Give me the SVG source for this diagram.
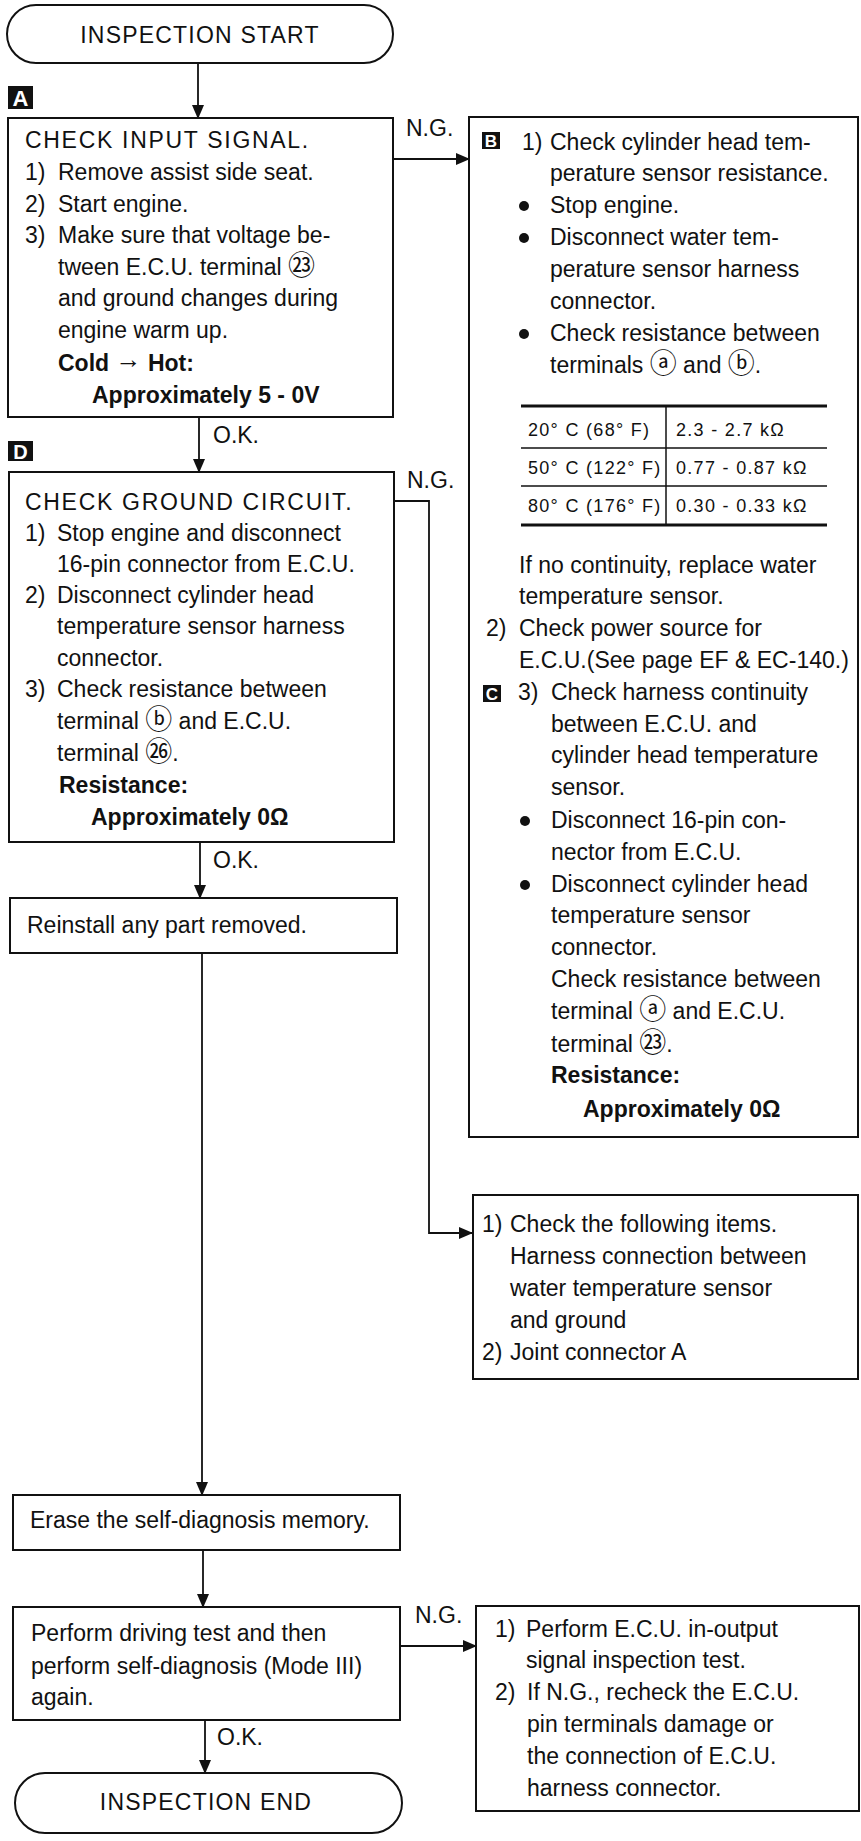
<svg xmlns="http://www.w3.org/2000/svg" width="861" height="1841" viewBox="0 0 861 1841">
<style>
.t{font-family:'Liberation Sans','DejaVu Sans','Noto Sans CJK JP',sans-serif;font-size:23px;fill:#111}
.b{font-weight:bold}
.h{letter-spacing:1.7px}
.ti{letter-spacing:1.2px}
.tb{font-size:18px;letter-spacing:1.3px}
.c{font-size:27px}
.box{fill:#fff;stroke:#111;stroke-width:2}
.ln{stroke:#111;stroke-width:1.8;fill:none}
.badge{fill:#111}
.bt{font-family:'Liberation Sans',sans-serif;fill:#fff;text-anchor:middle;font-weight:bold}
.dot{fill:#111}
</style>
<defs>
<marker id="ah" markerWidth="14" markerHeight="12" refX="13" refY="6" orient="auto" markerUnits="userSpaceOnUse">
<path d="M0,0 L14,6 L0,12 Z" fill="#111"/>
</marker>
</defs>
<rect width="861" height="1841" fill="#fff"/>

<g id="connectors">
<line class="ln" x1="198" y1="63" x2="198" y2="118" marker-end="url(#ah)"/>
<line class="ln" x1="393" y1="159" x2="469" y2="159" marker-end="url(#ah)"/>
<text class="t" x="406" y="136">N.G.</text>
<line class="ln" x1="199" y1="417" x2="199" y2="472" marker-end="url(#ah)"/>
<text class="t" x="213" y="443">O.K.</text>
<path class="ln" d="M394,501 H429 V1233 H472" marker-end="url(#ah)"/>
<text class="t" x="407" y="488">N.G.</text>
<line class="ln" x1="200" y1="842" x2="200" y2="898" marker-end="url(#ah)"/>
<text class="t" x="213" y="868">O.K.</text>
<line class="ln" x1="202" y1="953" x2="202" y2="1495" marker-end="url(#ah)"/>
<line class="ln" x1="203" y1="1550" x2="203" y2="1607" marker-end="url(#ah)"/>
<line class="ln" x1="205" y1="1720" x2="205" y2="1773" marker-end="url(#ah)"/>
<text class="t" x="217" y="1745">O.K.</text>
<line class="ln" x1="400" y1="1646" x2="476" y2="1646" marker-end="url(#ah)"/>
<text class="t" x="415" y="1623">N.G.</text>
</g>

<g id="start">
<rect class="box" x="7" y="5" width="386" height="58" rx="29" ry="29"/>
<text class="t ti" x="200" y="43" text-anchor="middle">INSPECTION START</text>
</g>

<g id="boxA">
<rect class="badge" x="8" y="86" width="25" height="23"/>
<text class="bt" x="20.5" y="105.5" font-size="22">A</text>
<rect class="box" x="8" y="118" width="385" height="299"/>
<text class="t h" x="25" y="148">CHECK INPUT SIGNAL.</text>
<text class="t" x="25" y="180">1)</text><text class="t" x="58" y="180">Remove assist side seat.</text>
<text class="t" x="25" y="212">2)</text><text class="t" x="58" y="212">Start engine.</text>
<text class="t" x="25" y="243">3)</text><text class="t" x="58" y="243">Make sure that voltage be-</text>
<text class="t" x="58" y="275">tween E.C.U. terminal <tspan class="c">㉓</tspan></text>
<text class="t" x="58" y="306">and ground changes during</text>
<text class="t" x="58" y="338">engine warm up.</text>
<text class="t b" x="58" y="371">Cold <tspan font-size="26" dy="-3">→</tspan><tspan dy="3"> Hot:</tspan></text>
<text class="t b" x="92" y="403">Approximately 5 - 0V</text>
</g>

<g id="boxB">
<rect class="box" x="469" y="117" width="389" height="1020"/>
<rect class="badge" x="482" y="132" width="18" height="17"/>
<text class="bt" x="491" y="147" font-size="17">B</text>
<text class="t" x="522" y="150">1)</text><text class="t" x="550" y="150">Check cylinder head tem-</text>
<text class="t" x="550" y="181">perature sensor resistance.</text>
<circle class="dot" cx="524" cy="206" r="5"/><text class="t" x="550" y="213">Stop engine.</text>
<circle class="dot" cx="524" cy="238" r="5"/><text class="t" x="550" y="245">Disconnect water tem-</text>
<text class="t" x="550" y="277">perature sensor harness</text>
<text class="t" x="550" y="309">connector.</text>
<circle class="dot" cx="524" cy="334" r="5"/><text class="t" x="550" y="341">Check resistance between</text>
<text class="t" x="550" y="373">terminals <tspan class="c">ⓐ</tspan> and <tspan class="c">ⓑ</tspan>.</text>
<g id="table">
<line x1="521" y1="406" x2="827" y2="406" stroke="#111" stroke-width="3"/>
<line x1="521" y1="448" x2="827" y2="448" stroke="#111" stroke-width="1.5"/>
<line x1="521" y1="486" x2="827" y2="486" stroke="#111" stroke-width="1.5"/>
<line x1="521" y1="525" x2="827" y2="525" stroke="#111" stroke-width="3"/>
<line x1="666" y1="406" x2="666" y2="525" stroke="#111" stroke-width="1.5"/>
<text class="t tb" x="528" y="436">20° C (68° F)</text><text class="t tb" x="676" y="436">2.3 - 2.7 kΩ</text>
<text class="t tb" x="528" y="474">50° C (122° F)</text><text class="t tb" x="676" y="474">0.77 - 0.87 kΩ</text>
<text class="t tb" x="528" y="512">80° C (176° F)</text><text class="t tb" x="676" y="512">0.30 - 0.33 kΩ</text>
</g>
<text class="t" x="519" y="573">If no continuity, replace water</text>
<text class="t" x="519" y="604">temperature sensor.</text>
<text class="t" x="486" y="636">2)</text><text class="t" x="519" y="636">Check power source for</text>
<text class="t" x="519" y="668">E.C.U.(See page EF &amp; EC-140.)</text>
<rect class="badge" x="483" y="685" width="18" height="17"/>
<text class="bt" x="492" y="700" font-size="17">C</text>
<text class="t" x="518" y="700">3)</text><text class="t" x="551" y="700">Check harness continuity</text>
<text class="t" x="551" y="732">between E.C.U. and</text>
<text class="t" x="551" y="763">cylinder head temperature</text>
<text class="t" x="551" y="795">sensor.</text>
<circle class="dot" cx="525" cy="821" r="5"/><text class="t" x="551" y="828">Disconnect 16-pin con-</text>
<text class="t" x="551" y="860">nector from E.C.U.</text>
<circle class="dot" cx="525" cy="885" r="5"/><text class="t" x="551" y="892">Disconnect cylinder head</text>
<text class="t" x="551" y="923">temperature sensor</text>
<text class="t" x="551" y="955">connector.</text>
<text class="t" x="551" y="987">Check resistance between</text>
<text class="t" x="551" y="1019">terminal <tspan class="c">ⓐ</tspan> and E.C.U.</text>
<text class="t" x="551" y="1052">terminal <tspan class="c">㉓</tspan>.</text>
<text class="t b" x="551" y="1083">Resistance:</text>
<text class="t b" x="583" y="1117">Approximately 0Ω</text>
</g>

<g id="boxD">
<rect class="badge" x="8" y="441" width="25" height="20"/>
<text class="bt" x="20.5" y="459" font-size="20">D</text>
<rect class="box" x="9" y="472" width="385" height="370"/>
<text class="t h" x="25" y="510">CHECK GROUND CIRCUIT.</text>
<text class="t" x="25" y="541">1)</text><text class="t" x="57" y="541">Stop engine and disconnect</text>
<text class="t" x="57" y="572">16-pin connector from E.C.U.</text>
<text class="t" x="25" y="603">2)</text><text class="t" x="57" y="603">Disconnect cylinder head</text>
<text class="t" x="57" y="634">temperature sensor harness</text>
<text class="t" x="57" y="666">connector.</text>
<text class="t" x="25" y="697">3)</text><text class="t" x="57" y="697">Check resistance between</text>
<text class="t" x="57" y="729">terminal <tspan class="c">ⓑ</tspan> and E.C.U.</text>
<text class="t" x="57" y="761">terminal <tspan class="c">㉖</tspan>.</text>
<text class="t b" x="59" y="793">Resistance:</text>
<text class="t b" x="91" y="825">Approximately 0Ω</text>
</g>

<g id="reinstall">
<rect class="box" x="10" y="898" width="387" height="55"/>
<text class="t" x="27" y="933">Reinstall any part removed.</text>
</g>

<g id="groundCheck">
<rect class="box" x="473" y="1195" width="385" height="184"/>
<text class="t" x="482" y="1232">1)</text><text class="t" x="510" y="1232">Check the following items.</text>
<text class="t" x="510" y="1264">Harness connection between</text>
<text class="t" x="510" y="1296">water temperature sensor</text>
<text class="t" x="510" y="1328">and ground</text>
<text class="t" x="482" y="1360">2)</text><text class="t" x="510" y="1360">Joint connector A</text>
</g>

<g id="erase">
<rect class="box" x="13" y="1495" width="387" height="55"/>
<text class="t" x="30" y="1528">Erase the self-diagnosis memory.</text>
</g>

<g id="perform">
<rect class="box" x="13" y="1607" width="387" height="113"/>
<text class="t" x="31" y="1641">Perform driving test and then</text>
<text class="t" x="31" y="1674">perform self-diagnosis (Mode III)</text>
<text class="t" x="31" y="1705">again.</text>
</g>

<g id="ecuCheck">
<rect class="box" x="476" y="1606" width="383" height="205"/>
<text class="t" x="495" y="1637">1)</text><text class="t" x="526" y="1637">Perform E.C.U. in-output</text>
<text class="t" x="526" y="1668">signal inspection test.</text>
<text class="t" x="495" y="1700">2)</text><text class="t" x="527" y="1700">If N.G., recheck the E.C.U.</text>
<text class="t" x="527" y="1732">pin terminals damage or</text>
<text class="t" x="527" y="1764">the connection of E.C.U.</text>
<text class="t" x="527" y="1796">harness connector.</text>
</g>

<g id="end">
<rect class="box" x="15" y="1773" width="387" height="60" rx="30" ry="30"/>
<text class="t ti" x="206" y="1810" text-anchor="middle">INSPECTION END</text>
</g>
</svg>
